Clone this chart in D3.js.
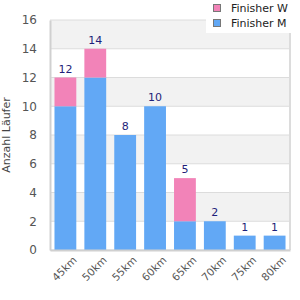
<!DOCTYPE html>
<html>
<head>
<meta charset="utf-8">
<script src="https://cdn.jsdelivr.net/npm/d3@7"></script>
<style>
  body { margin: 0; background: #fff; }
  svg { font-family: "DejaVu Sans", sans-serif; }
</style>
</head>
<body>
<svg width="300" height="300"></svg>
<script>
// Läufer pro Distanz, gestapelt
var categories = ['45km', '50km', '55km', '60km', '65km', '70km', '75km', '80km'];
var finisherM = [10, 12, 8, 10, 2, 2, 1, 1];
var finisherW = [2, 2, 0, 0, 3, 0, 0, 0];
var seriesNames = ['Finisher W', 'Finisher M'];
var yTicks = [0, 2, 4, 6, 8, 10, 12, 14, 16];

var svg = d3.select('svg');
var plotLeft = 50, plotRight = 290, plotTop = 20, plotBottom = 250;

var data = categories.map(function(c, i) {
  return { cat: c, M: finisherM[i], W: finisherW[i] };
});

var x = d3.scaleBand().domain(categories).range([plotLeft, plotRight]).paddingInner(0.27).paddingOuter(0.15);
var y = d3.scaleLinear().domain([0, 16]).range([plotBottom, plotTop]);
var colors = { 'Finisher W': '#f283b8', 'Finisher M': '#62a8f5' };

// alternating bands
var g = svg.append('g');
d3.range(0, yTicks.length - 1).forEach(function(i) {
  g.append('rect')
    .attr('x', plotLeft).attr('width', plotRight - plotLeft)
    .attr('y', y(yTicks[i + 1])).attr('height', y(yTicks[i]) - y(yTicks[i + 1]))
    .attr('fill', i % 2 === 1 ? '#f2f2f2' : '#fff');
});
g.selectAll('.grid')
  .data(yTicks)
  .enter().append('line')
    .attr('x1', plotLeft).attr('x2', plotRight)
    .attr('y1', d => y(d)).attr('y2', d => y(d))
    .attr('stroke', '#dcdcdc');
g.append('line').attr('x1', plotRight).attr('x2', plotRight).attr('y1', plotTop).attr('y2', plotBottom).attr('stroke', '#dcdcdc').attr('stroke-width', 2);

var stack = d3.stack().keys(['M', 'W'])(data);
var keyName = { M: 'Finisher M', W: 'Finisher W' };
svg.selectAll('.layer')
  .data(stack)
  .enter().append('g')
    .attr('fill', d => colors[keyName[d.key]])
  .selectAll('rect')
  .data(d => d)
  .enter().append('rect')
    .attr('x', d => x(d.data.cat))
    .attr('width', x.bandwidth())
    .attr('y', d => y(d[1]))
    .attr('height', d => y(d[0]) - y(d[1]));

svg.selectAll('.total')
  .data(data)
  .enter().append('text')
    .attr('x', d => x(d.cat) + x.bandwidth() / 2)
    .attr('y', d => y(d.M + d.W) - 5)
    .attr('text-anchor', 'middle')
    .attr('font-size', 11)
    .attr('fill', '#1f1f7a')
    .text(d => d.M + d.W);

// axes
var yAxis = svg.append('g')
  .attr('transform', `translate(${plotLeft},0)`)
  .call(d3.axisLeft(y).tickValues(yTicks).tickSize(0).tickPadding(13));
yAxis.select('.domain').attr('stroke', '#d0d0d0').attr('stroke-width', 2);
yAxis.selectAll('text').attr('font-size', 12).attr('fill', '#555').attr('font-family', '"DejaVu Sans", sans-serif');

var xAxis = svg.append('g')
  .attr('transform', `translate(0,${plotBottom})`)
  .call(d3.axisBottom(x).tickSize(0).tickPadding(12));
xAxis.select('.domain').attr('stroke', '#d0d0d0').attr('stroke-width', 2);
xAxis.selectAll('text')
  .attr('font-size', 10.5).attr('fill', '#555').attr('font-family', '"DejaVu Sans", sans-serif')
  .attr('text-anchor', 'end')
  .attr('dx', '0.1em').attr('dy', '0.4em')
  .attr('transform', 'rotate(-45)');

svg.append('text')
  .attr('transform', `translate(10,${(plotTop + plotBottom) / 2}) rotate(-90)`)
  .attr('text-anchor', 'middle')
  .attr('font-size', 11)
  .attr('fill', '#444')
  .text('Anzahl Läufer');

// legend
var legend = svg.append('g');
legend.append('rect').attr('x', 206).attr('y', 0).attr('width', 94).attr('height', 33).attr('fill', '#fff');
seriesNames.forEach(function(name, i) {
  legend.append('rect')
    .attr('x', 213.5).attr('y', 4.5 + i * 15)
    .attr('width', 7).attr('height', 7)
    .attr('fill', colors[name]).attr('stroke', '#777');
  legend.append('text')
    .attr('x', 231).attr('y', 12 + i * 15)
    .attr('font-size', 11).attr('fill', '#222')
    .text(name);
});
</script>
</body>
</html>
